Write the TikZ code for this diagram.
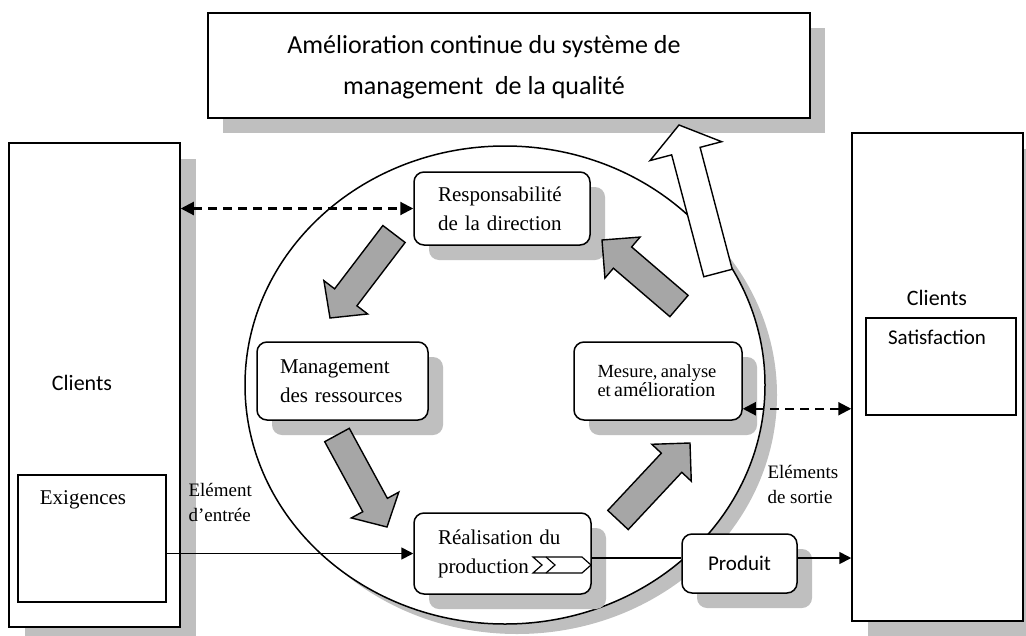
\documentclass[tikz,border=0pt]{standalone}
\usepackage{fontspec}
\setmainfont{Liberation Serif}
\newfontfamily\calib{Carlito}
\usetikzlibrary{arrows.meta,calc,shadows,shapes.geometric}

\definecolor{shadowgray}{HTML}{BFBFBF}
\definecolor{arrowgray}{HTML}{A6A6A6}

\tikzset{
  frame/.style={draw, line width=1.5pt, fill=white, inner sep=0pt},
  roundframe/.style={frame, rounded corners=10pt},
  withshadow/.style={drop shadow={shadow xshift=15pt, shadow yshift=-15pt, fill=shadowgray, opacity=1}},
  serif21/.style={font=\fontsize{21}{29}\selectfont},
  sans22/.style={font=\calib\fontsize{22}{26}\selectfont},
  sans21/.style={font=\calib\fontsize{21}{25}\selectfont},
  conn/.style={line width=1.7pt, -{Triangle[length=12pt,width=12pt]}},
  dashconn/.style={line width=2.1pt, dash pattern=on 9pt off 6pt,
    {Triangle[length=13pt,width=13pt]}-{Triangle[length=13pt,width=13pt]}},
}

% block arrow: fill, tail, tip, shaft half width, head half width, head length
\newcommand{\blockarrow}[6]{%
  \coordinate (ba-neck) at ($(#3)!#6!(#2)$);
  \draw[fill=#1, line width=1.4pt, line join=miter]
    ($(#2)!#4!90:(#3)$) -- ($(ba-neck)!#4!90:(#3)$) -- ($(ba-neck)!#5!90:(#3)$)
    -- (#3) -- ($(ba-neck)!#5!-90:(#3)$) -- ($(ba-neck)!#4!-90:(#3)$)
    -- ($(#2)!#4!-90:(#3)$) -- cycle;
}

\begin{document}
\begin{tikzpicture}[x=1pt,y=-1pt]
\useasboundingbox (0,0) rectangle (1026,635);

% outer frames
\node[frame, withshadow, minimum width=602pt, minimum height=105pt] (topbox) at (509,65.5) {};
\node[font=\calib\fontsize{26}{41}\selectfont, align=center] (toptext) at (484,67)
  {Amélioration continue du système de\\management\ \ de la qualité};

\node[frame, drop shadow={shadow xshift=16pt, shadow yshift=-16pt, fill=shadowgray, opacity=1},
  minimum width=171pt, minimum height=484pt] (lclients) at (94.5,385) {};
\node[sans22] (lclientstext) at (82,383) {Clients};
\node[frame, minimum width=148pt, minimum height=127pt] (exig) at (92,538.5) {};
\node[serif21] (exigtext) at (83,500) {Exigences};

\node[frame, drop shadow={shadow xshift=16pt, shadow yshift=-16pt, fill=shadowgray, opacity=1},
  minimum width=171pt, minimum height=488pt] (rclients) at (937.5,377) {};
\node[sans22] (rclientstext) at (937,298) {Clients};
\node[frame, minimum width=150pt, minimum height=97pt] (satis) at (941,366.5) {};
\node[sans21] (satistext) at (937,337) {Satisfaction};

% process loop
\node[ellipse, draw, line width=1.5pt, fill=white, inner sep=0pt,
  drop shadow={shadow xshift=12pt, shadow yshift=-10pt, fill=shadowgray, opacity=1},
  minimum width=520pt, minimum height=478pt] (loop) at (505,385) {};

% process steps
\node[roundframe, withshadow, minimum width=176pt, minimum height=73pt,
  serif21, text width=128pt, align=left] (resp) at (502,208.5)
  {Responsabilité\\de la direction};
\node[roundframe, withshadow, minimum width=171pt, minimum height=78pt,
  serif21, text width=125pt, align=left] (mgmt) at (342.5,381)
  {Management\\des ressources};
\node[roundframe, withshadow, minimum width=168pt, minimum height=78pt,
  text width=121pt, align=left] (mesure) at (658,381)
  {{\fontsize{18.5}{29}\selectfont Mesure, analyse}\\{\fontsize{18.5}{29}\selectfont et }{\fontsize{20}{29}\selectfont amélioration}};
\node[roundframe, withshadow, minimum width=177pt, minimum height=81pt,
  serif21, text width=129pt, align=left] (real) at (502.5,553.5)
  {Réalisation du\\production};
\node[roundframe, withshadow, minimum width=115pt, minimum height=59pt, sans21] (prod) at (739.5,563.5) {Produit};

% chevron inside the production step
\draw[line width=1.2pt, fill=white, line join=miter]
  (533,557) -- (582,557) -- (591,565) -- (582,573) -- (533,573) -- (542,565) -- cycle;
\draw[line width=1.2pt] (546,557) -- (555,565) -- (546,573);

% cycle arrows
\coordinate (a1t) at (394,234); \coordinate (a1h) at (330,318);
\coordinate (a2t) at (337,435); \coordinate (a2h) at (387,527);
\coordinate (a3t) at (618,520); \coordinate (a3h) at (690,443);
\coordinate (a4t) at (679,306); \coordinate (a4h) at (602,240);
\blockarrow{arrowgray}{a1t}{a1h}{14pt}{27.5pt}{26pt}
\blockarrow{arrowgray}{a2t}{a2h}{14pt}{27pt}{25pt}
\blockarrow{arrowgray}{a3t}{a3h}{14pt}{27pt}{27pt}
\blockarrow{arrowgray}{a4t}{a4h}{14pt}{27pt}{27pt}

% improvement arrow
\coordinate (upt) at (718,273); \coordinate (uph) at (679,125);
\blockarrow{white}{upt}{uph}{14.7pt}{37pt}{27pt}

% flows
\coordinate (mesR) at ([yshift=12pt]mesure.south east);
\draw[dashconn] (lclients.east |- resp.west) -- (resp.west);
\draw[dashconn] (mesR) -- (mesR -| rclients.west);
\draw[conn] (exig.east |- real.west) -- (real.west);
\coordinate (realR) at ([yshift=-4.5pt]real.east);
\draw[line width=1.7pt] (realR) -- (realR -| prod.west);
\coordinate (prodR) at ([yshift=5.5pt]prod.east);
\draw[conn] (prodR) -- (prodR -| rclients.west);

% flow labels
\node[font=\fontsize{19}{25}\selectfont, align=left, anchor=west] (inlabel) at (185,502)
  {Elément\\d'entrée};
\node[font=\fontsize{19}{25}\selectfont, align=left, anchor=west] (outlabel) at (764,484)
  {Eléments\\de sortie};
\end{tikzpicture}
\end{document}
